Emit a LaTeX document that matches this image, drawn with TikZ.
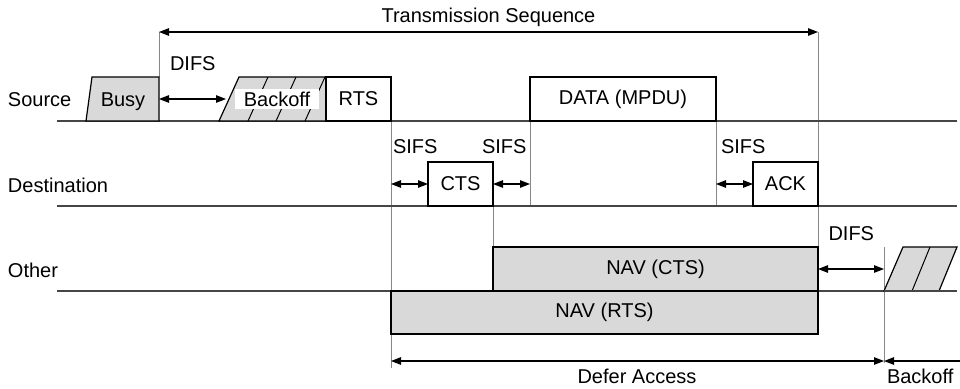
\documentclass[tikz,border=0pt]{standalone}
\usepackage{fontspec}
\setmainfont{Liberation Sans}
\usetikzlibrary{arrows.meta}
\definecolor{navgray}{RGB}{217,217,217}
\definecolor{linegray}{RGB}{70,70,70}
\definecolor{guidegray}{RGB}{135,135,135}
\begin{document}
\begin{tikzpicture}[x=1pt,y=-1pt,
  every node/.style={font=\fontsize{20}{24}\selectfont, inner sep=0pt, outer sep=0pt},
  tl/.style={line width=1.4pt, draw=linegray},
  guide/.style={line width=0.9pt, draw=guidegray},
  box/.style={draw=black, line width=1.2pt, fill=white, minimum height=44pt},
  gbox/.style={box, fill=navgray},
  gshape/.style={draw=black, line width=1.2pt, fill=navgray},
  hatch/.style={draw=black, line width=1pt},
  tip/.tip={Triangle[length=10pt,width=7.5pt]},
  dim/.style={line width=1.2pt, tip-tip},
  lbl/.style={anchor=base west},
  clbl/.style={anchor=base}]
\useasboundingbox (0,0) rectangle (960,388);

% key coordinates
\coordinate (tsL) at (159,32);
\coordinate (tsR) at (818,32);
\coordinate (srcL) at (57,121);   \coordinate (srcR) at (957,121);
\coordinate (dstL) at (57,206);   \coordinate (dstR) at (957,206);
\coordinate (othL) at (57,291);   \coordinate (othR) at (957,291);

% guide lines
\draw[guide] (tsL) -- (159,77);
\draw[guide] (tsR) -- (818,334);
\draw[guide] (391,121) coordinate (g1t) -- (391,368) coordinate (g1b);
\draw[guide] (530,121) -- (530,206);
\draw[guide] (716,121) -- (716,206);
\draw[guide] (493,206) -- (493,247);
\draw[guide] (884,247) coordinate (g2t) -- (884,363) coordinate (g2b);

% time lines
\draw[tl] (srcL) -- (srcR);
\draw[tl] (dstL) -- (dstR);
\draw[tl] (othL) -- (othR);

% row labels
\node[lbl] (lsrc) at (8,106.7) {Source};
\node[lbl] (ldst) at (8,192.3) {Destination};
\node[lbl] (loth) at (8,277.7) {Other};

% Source row
\draw[gshape] (86,121) -- (92,77) -- (159,77) -- (159,121) -- cycle;
\node[clbl] (busy) at (123,106.7) {Busy};
\draw[gshape] (219,121) -- (239,77) -- (326,77) -- (326,121) -- cycle;
\draw[hatch] (248,121) -- (268,77);
\draw[hatch] (276,121) -- (296,77);
\draw[hatch] (305,121) -- (325,77);
\node[fill=white, minimum width=84pt, minimum height=20pt] (bo) at (277,99) {Backoff};
\node[box, minimum width=65pt] (rts) at (358.5,99) {RTS};
\node[box, minimum width=186pt] (data) at (623,99) {DATA (MPDU)};

% Destination row
\node[box, minimum width=65pt] (cts) at (460.5,184) {CTS};
\node[box, minimum width=65pt] (ack) at (785.5,184) {ACK};

% Other row
\node[gbox, minimum width=325pt, minimum height=44pt] (navcts) at (655.5,269) {NAV (CTS)};
\node[gbox, minimum width=427pt, minimum height=43pt] (navrts) at (604.5,312.5) {NAV (RTS)};
\draw[gshape] (884,291) -- (903,247) -- (957,247) -- (939,291) -- cycle;
\draw[hatch] (912,291) -- (930,247);
\draw[tl] (884,291) -- (othR);

% dimension arrows
\draw[dim] (tsL) -- (tsR);
\node[clbl] (tslbl) at (488.5,22) {Transmission Sequence};

\coordinate (d1a) at (159,99); \coordinate (d1b) at (226,99);
\draw[dim] (d1a) -- (d1b);
\node[lbl] (difs1) at (170,70.7) {DIFS};

\coordinate (s1a) at (391,184); \coordinate (s1b) at (428,184);
\coordinate (s2a) at (493,184); \coordinate (s2b) at (530,184);
\coordinate (s3a) at (716,184); \coordinate (s3b) at (753,184);
\draw[dim] (s1a) -- (s1b);
\draw[dim] (s2a) -- (s2b);
\draw[dim] (s3a) -- (s3b);
\node[lbl] (sifs1) at (393,153.3) {SIFS};
\node[lbl] (sifs2) at (482,153.3) {SIFS};
\node[lbl] (sifs3) at (721,153.3) {SIFS};

\coordinate (d2a) at (818,269); \coordinate (d2b) at (884,269);
\draw[dim] (d2a) -- (d2b);
\node[lbl] (difs2) at (828.5,240) {DIFS};

\coordinate (dfa) at (391,361); \coordinate (dfb) at (884,361);
\coordinate (bkb) at (960,361);
\draw[dim] (dfa) -- (dfb);
\draw[line width=1.2pt, tip-] (dfb) -- (bkb);
\node[clbl] (defer) at (637,383) {Defer Access};
\node[lbl] (bkl) at (887,383) {Backoff};
\end{tikzpicture}
\end{document}
